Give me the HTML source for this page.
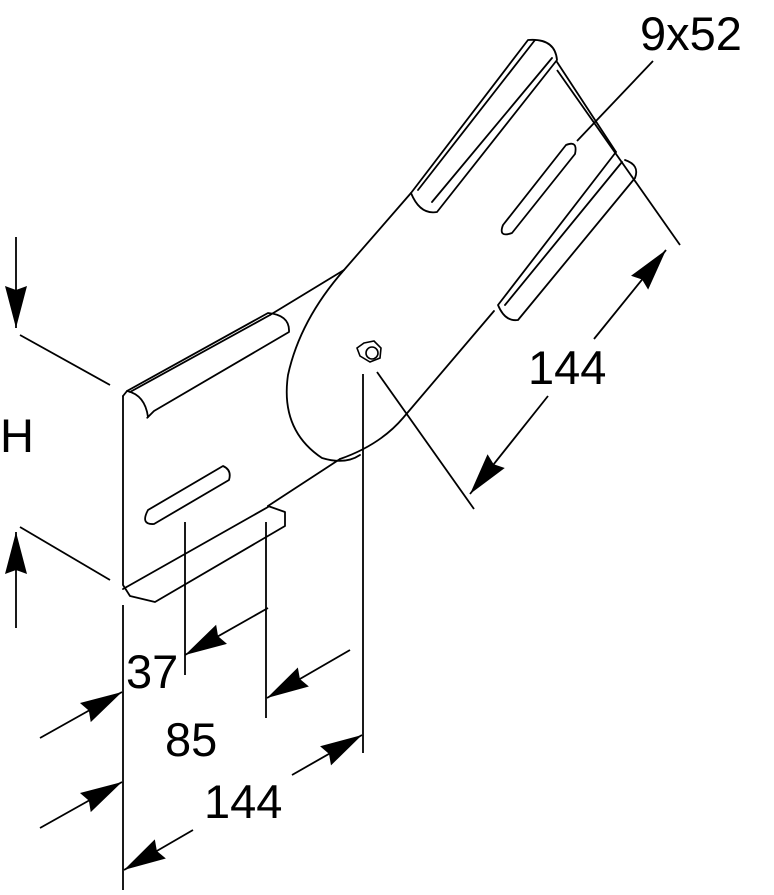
<!DOCTYPE html>
<html><head><style>body{margin:0;background:#fff}svg{display:block}</style></head><body>
<svg width="774" height="895" viewBox="0 0 774 895" xmlns="http://www.w3.org/2000/svg" font-family="Liberation Sans, sans-serif">
<defs>
<marker id="a" markerUnits="userSpaceOnUse" markerWidth="46" markerHeight="26" refX="44" refY="13" orient="auto" viewBox="0 0 46 26">
<path d="M44,13 L2,2 L6,13 L2,24 Z" fill="#000"/>
</marker>
</defs>
<g fill="none" stroke="#000" stroke-width="1.8" stroke-linejoin="round" stroke-linecap="round">
<path d="M123,396 L123,585 L130,596 L155,602 L285,526 L285,512 L268,506"/>
<path d="M123,589 L268,507"/>
<path d="M123,396 L127,391 L268,313 Q290,315 289,332 L154,411 Q145,420 148,417"/>
<path d="M127,391 Q145,395 148,417"/>
<path d="M130,392 L270,315"/>
<path d="M268,506 L340,459"/>
<path d="M270,315 L344,270"/>
<path d="M344,270 Q300,320 288,375 Q280,430 322,458 Q345,465 360,455"/>
<path d="M344,270 L411,193"/>
<path d="M411,193 L528,40 Q555,38 557,60 L437,212 Q420,215 411,193"/>
<path d="M418,190 L535,40"/>
<path d="M432,202 L552,58"/>
<path d="M557,62 L616,152"/>
<path d="M616,152 L498,305 Q505,322 518,320 L635,178 Q640,165 625,160"/>
<path d="M505,305 L622,162"/>
<path d="M494,311 L403,418 Q380,445 340,459"/>
<path d="M148,510 L223,466 Q232,470 229,480 L154,524 Q140,525 148,510 Z"/>
<path d="M503,225 L566,145 Q578,140 575,154 L512,233 Q498,238 503,225 Z"/>
</g>
<g fill="#fff" stroke="#000" stroke-width="1.6">
<polygon points="364,343 374,341 381,348 380,358 370,362 360,356 357,348"/>
<circle cx="372" cy="353" r="6" fill="none"/>
</g>
<g stroke="#000" stroke-width="1.8" fill="none">
<line x1="20" y1="335" x2="110" y2="385"/>
<line x1="20" y1="527" x2="110" y2="580"/>
<line x1="16" y1="237" x2="16" y2="328" marker-end="url(#a)"/>
<line x1="16" y1="628" x2="16" y2="532" marker-end="url(#a)"/>
<line x1="123" y1="605" x2="123" y2="890"/>
<line x1="185" y1="522" x2="185" y2="675"/>
<line x1="266" y1="522" x2="266" y2="718"/>
<line x1="363" y1="374" x2="363" y2="753"/>
<line x1="268" y1="608" x2="185" y2="655" marker-end="url(#a)"/>
<line x1="40" y1="738" x2="122" y2="692" marker-end="url(#a)"/>
<line x1="350" y1="650" x2="267" y2="698" marker-end="url(#a)"/>
<line x1="40" y1="828" x2="122" y2="782" marker-end="url(#a)"/>
<line x1="292" y1="775" x2="362" y2="735" marker-end="url(#a)"/>
<line x1="193" y1="830" x2="124" y2="870" marker-end="url(#a)"/>
<line x1="377" y1="372" x2="474" y2="509"/>
<line x1="557" y1="70" x2="680" y2="245"/>
<line x1="548" y1="396" x2="470" y2="494" marker-end="url(#a)"/>
<line x1="594" y1="339" x2="666" y2="250" marker-end="url(#a)"/>
<line x1="653" y1="61" x2="577" y2="141"/>
</g>
<g font-size="47" fill="#000">
<text x="0" y="452">H</text>
<text x="126" y="688">37</text>
<text x="165" y="756">85</text>
<text x="204" y="818">144</text>
<text x="528" y="384">144</text>
<text x="640" y="50">9x52</text>
</g>
</svg>
</body></html>
